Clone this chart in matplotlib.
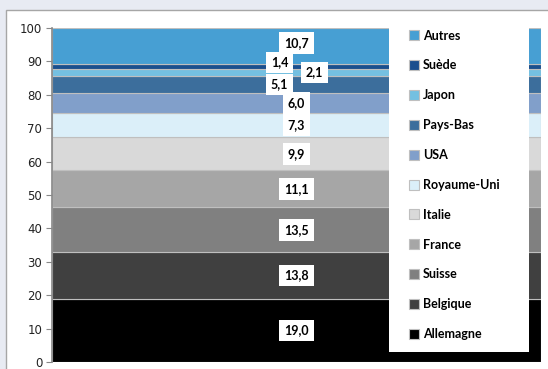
import matplotlib
matplotlib.use("Agg")
import matplotlib.pyplot as plt
from matplotlib.patches import Rectangle

countries = ["Allemagne", "Belgique", "Suisse", "France", "Italie", "Royaume-Uni",
             "USA", "Pays-Bas", "Japon", "Suède", "Autres"]
values = [19.0, 13.8, 13.5, 11.1, 9.9, 7.3, 6.0, 5.1, 2.1, 1.4, 10.7]
labels = ["19,0", "13,8", "13,5", "11,1", "9,9", "7,3", "6,0", "5,1", "2,1", "1,4", "10,7"]
colors = ["#000000", "#404040", "#808080", "#a6a6a6", "#d9d9d9", "#dbeff9",
          "#819fca", "#3c6e9c", "#74c0e1", "#1b4f8e", "#479fd3"]
# pixel offsets for crowded labels
label_dx = [0, 0, 0, 0, 0, 0, 0, -17, 18, -17, 0]
label_dy = [0, 0, 0, 0, 0, 0, 0, 0, 0, 4, 3]
yticks = [0, 10, 20, 30, 40, 50, 60, 70, 80, 90, 100]

fig = plt.figure(figsize=(5.48, 3.69), dpi=100, facecolor="#e8ebf3")
fig.patches.append(Rectangle((6/548, -0.01), 1.0, 1 - 10/369 + 0.01, transform=fig.transFigure,
                             facecolor="white", edgecolor="#a6a6a6", linewidth=1.0, zorder=-5))

ax = fig.add_axes([52/548, 7/369, 489/548, 334/369])
ax.set_zorder(2)
ax.set_facecolor("white")

bottom = 0.0
handles = []
for c, v, lab, col, dx, dy in zip(countries, values, labels, colors, label_dx, label_dy):
    b = ax.bar(0, v, bottom=bottom, width=1.0, color=col, edgecolor="#bfbfbf",
               linewidth=0.8, label=c)
    handles.append(b)
    ax.annotate(lab, xy=(0, bottom + v / 2), xytext=(dx * 0.72, dy * 0.72),
                textcoords="offset points",
                ha="center", va="center", fontsize=9, fontweight="bold", family="Lato",
                color="black",
                bbox=dict(boxstyle="square,pad=0.38", fc="white", ec="none"), zorder=5)
    bottom += v

ax.set_xlim(-0.5, 0.5)
ax.set_ylim(0, 100)
ax.set_yticks(yticks)
ax.set_yticklabels([str(t) for t in yticks], fontsize=8.5, color="#222222")
ax.set_xticks([])
ax.tick_params(axis="y", direction="out", length=4, color="#888888", pad=3)
for s in ["top", "right", "bottom"]:
    ax.spines[s].set_visible(False)
ax.spines["left"].set_color("#888888")
ax.spines["left"].set_linewidth(1.2)

# white legend panel
ax.add_patch(Rectangle((389/548, 1 - 352/369), 140/548, (352 - 18)/369,
                       transform=fig.transFigure, facecolor="white", edgecolor="none",
                       zorder=9, clip_on=False))

leg = ax.legend(handles[::-1], countries[::-1], loc="upper left",
                bbox_to_anchor=(406/548, 1 - 27/369),
                bbox_transform=fig.transFigure,
                frameon=False, prop={"family": "Lato", "weight": "bold", "size": 9},
                handlelength=0.85, handleheight=0.85, handletextpad=0.3,
                labelspacing=1.43, borderpad=0.2, borderaxespad=0)
leg.set_zorder(10)

fig.savefig("out.png", dpi=100, facecolor=fig.get_facecolor())
